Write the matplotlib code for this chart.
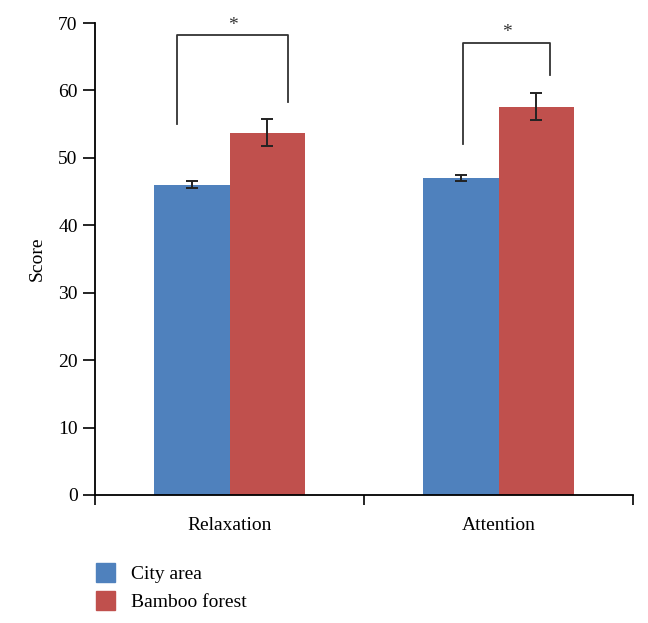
import matplotlib
matplotlib.use("Agg")
import matplotlib.pyplot as plt
import numpy as np
from matplotlib.patches import Patch

plt.rcParams['font.family'] = ['Liberation Serif', 'DejaVu Serif']

# data
categories = ["Relaxation", "Attention"]
city_area = [46.0, 47.0]
city_err = [0.5, 0.5]
bamboo_forest = [53.7, 57.6]
bamboo_err = [2.0, 2.0]

# significance brackets: (left x offset, right x offset, left bottom, right bottom, top)
brackets = [(-0.197, 0.219, 55.0, 58.3, 68.2),
            (-0.132, 0.191, 52.0, 62.3, 67.1)]

blue = "#4F81BD"
red = "#C0504D"

fig = plt.figure(figsize=(6.48, 6.23), dpi=100)
ax = fig.add_axes([0.1466, 0.2055, 0.977 - 0.1466, 0.963 - 0.2055])

x = np.arange(len(categories)) + 0.5
w = 0.28
ax.bar(x - w / 2, city_area, w, color=blue, yerr=city_err, capsize=4.5,
       error_kw=dict(elinewidth=1.4, capthick=1.4, ecolor="#222222"))
ax.bar(x + w / 2, bamboo_forest, w, color=red, yerr=bamboo_err, capsize=4.5,
       error_kw=dict(elinewidth=1.4, capthick=1.4, ecolor="#222222"))

for xi, (lo, ro, lb, rb, top) in zip(x, brackets):
    ax.plot([xi + lo, xi + lo, xi + ro, xi + ro], [lb, top, top, rb],
            color="#333333", lw=1.3, clip_on=False)
    ax.text(xi + (lo + ro) / 2, top + 0.2, "*", ha="center", va="bottom",
            fontsize=14, color="#333333")

ax.set_xlim(0, 2)
ax.set_ylim(0, 70)
ax.set_yticks(range(0, 71, 10))
ax.set_xticks([0, 1, 2])
ax.set_xticklabels([])
ax.set_xticks(x, minor=True)
ax.set_xticklabels(categories, minor=True)
ax.tick_params(axis="x", which="minor", length=0, pad=16, labelsize=14)
ax.tick_params(axis="x", which="major", length=7, width=1.2, direction="out")
ax.tick_params(axis="y", length=8.5, width=1.2, direction="out", labelsize=14, pad=4)
for s in ["top", "right"]:
    ax.spines[s].set_visible(False)
for s in ["left", "bottom"]:
    ax.spines[s].set_linewidth(1.3)
ax.set_ylabel("Score", fontsize=14, labelpad=9)

handles = [Patch(color=blue, label="City area"), Patch(color=red, label="Bamboo forest")]
fig.legend(handles=handles, loc="upper left", bbox_to_anchor=(0.136, 0.108),
           frameon=False, fontsize=14, handlelength=1.0, handleheight=1.1,
           handletextpad=0.8, labelspacing=0.4, borderaxespad=0)

fig.savefig("out.png", dpi=100)
